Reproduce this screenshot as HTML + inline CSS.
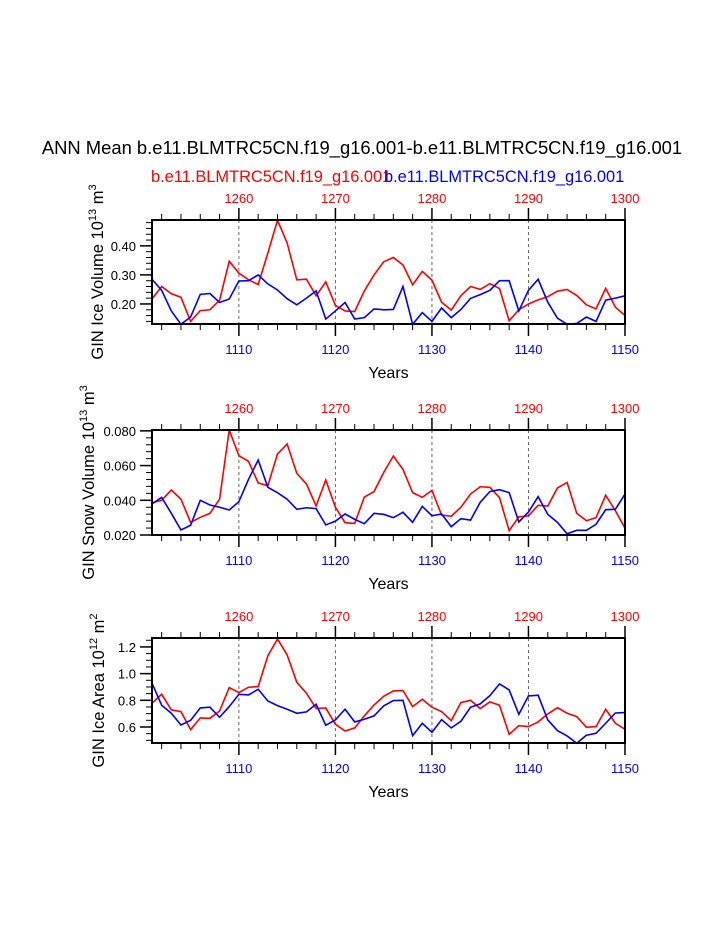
<!DOCTYPE html>
<html><head><meta charset="utf-8"><style>
body{margin:0;background:#fff;}
svg{display:block;font-family:"Liberation Sans",Arial,sans-serif;}
</style></head><body>
<svg id="c" width="723" height="935" viewBox="0 0 723 935" xmlns="http://www.w3.org/2000/svg">
<text x="362" y="154" font-size="18.4" text-anchor="middle">ANN Mean b.e11.BLMTRC5CN.f19_g16.001-b.e11.BLMTRC5CN.f19_g16.001</text>
<text x="151" y="182" font-size="16.4" fill="#f00">b.e11.BLMTRC5CN.f19_g16.001</text>
<text x="384" y="182" font-size="16.4" fill="#00f">b.e11.BLMTRC5CN.f19_g16.001</text>
</svg>
<script>
const years=[];for(let y=1101;y<=1150;y++)years.push(y);
const iceVolRed=[0.217,0.26,0.235,0.223,0.14,0.177,0.18,0.213,0.347,0.306,0.283,0.267,0.375,0.488,0.41,0.283,0.285,0.228,0.276,0.195,0.176,0.174,0.245,0.30,0.345,0.36,0.334,0.266,0.312,0.282,0.206,0.179,0.228,0.26,0.25,0.27,0.253,0.142,0.18,0.20,0.214,0.225,0.244,0.25,0.229,0.197,0.183,0.254,0.189,0.16];
const iceVolBlue=[0.285,0.247,0.176,0.13,0.155,0.233,0.236,0.205,0.217,0.279,0.28,0.30,0.269,0.248,0.218,0.197,0.22,0.245,0.148,0.176,0.205,0.148,0.153,0.183,0.18,0.181,0.26,0.13,0.17,0.14,0.186,0.153,0.181,0.219,0.232,0.247,0.28,0.28,0.176,0.247,0.285,0.206,0.151,0.13,0.133,0.155,0.14,0.213,0.22,0.228];
const snowRed=[0.0386,0.040,0.0459,0.0406,0.0273,0.0302,0.0325,0.0406,0.0805,0.0657,0.0624,0.050,0.0484,0.0667,0.0724,0.0555,0.0494,0.0367,0.0517,0.036,0.0271,0.0267,0.0419,0.045,0.056,0.0655,0.0578,0.0444,0.0417,0.0457,0.0315,0.0308,0.036,0.0436,0.0478,0.0475,0.0415,0.0225,0.0305,0.031,0.0371,0.0367,0.0471,0.0503,0.0325,0.0282,0.030,0.0429,0.034,0.0239];
const snowBlue=[0.0379,0.0417,0.0325,0.0229,0.0256,0.040,0.0373,0.036,0.0344,0.0392,0.0521,0.0632,0.0475,0.0444,0.0406,0.0348,0.0357,0.0352,0.0258,0.028,0.0321,0.029,0.0265,0.0325,0.0319,0.030,0.0331,0.0273,0.0365,0.0311,0.0321,0.0248,0.0294,0.0286,0.0388,0.045,0.0461,0.0444,0.0275,0.0332,0.0421,0.0319,0.0273,0.0207,0.0227,0.0227,0.0262,0.0346,0.0348,0.0436];
const areaRed=[0.778,0.845,0.728,0.715,0.58,0.668,0.665,0.72,0.895,0.858,0.898,0.903,1.133,1.26,1.14,0.935,0.853,0.738,0.743,0.62,0.57,0.593,0.683,0.765,0.83,0.87,0.873,0.753,0.808,0.748,0.715,0.648,0.783,0.80,0.738,0.788,0.763,0.545,0.61,0.603,0.638,0.698,0.745,0.703,0.678,0.598,0.603,0.733,0.628,0.583];
const areaBlue=[0.928,0.763,0.703,0.615,0.65,0.743,0.748,0.673,0.753,0.845,0.84,0.883,0.795,0.76,0.733,0.703,0.713,0.77,0.613,0.653,0.733,0.638,0.658,0.683,0.758,0.798,0.80,0.535,0.628,0.56,0.655,0.593,0.643,0.748,0.773,0.835,0.923,0.878,0.695,0.833,0.838,0.653,0.573,0.533,0.478,0.538,0.553,0.628,0.705,0.708];
const bottomTicks=[1110,1120,1130,1140,1150];
const topTicks=[1260,1270,1280,1290,1300];
const volTicks=[0.2,0.3,0.4],snowTicks=[0.02,0.04,0.06,0.08],areaTicks=[0.6,0.8,1.0,1.2];

const svg=document.getElementById('c');const NS='http://www.w3.org/2000/svg';
function el(t,a,p){const e=document.createElementNS(NS,t);for(const k in a)e.setAttribute(k,a[k]);(p||svg).appendChild(e);return e;}
const X0=152,X1=625;
const xs=y=>X0+(y-1101)*(X1-X0)/49;
function panel(name,top,bot,ymin,ymax,major,minorStep,dec,title,sup,unit,red,blue,tx){
  const g=el('g',{});
  
  
  const ys=v=>bot-(v-ymin)*(bot-top)/(ymax-ymin);
  [1110,1120,1130,1140].forEach(y=>{const l=el('line',{x1:xs(y),x2:xs(y),y1:top,y2:bot,stroke:'#666','stroke-width':1,'stroke-dasharray':'3,3'},g);
    });
  for(let y=1102;y<=1150;y+=2){if(y%10==0)continue;
    el('line',{x1:xs(y),x2:xs(y),y1:bot,y2:bot+6,stroke:'#000','stroke-width':1},g);
    el('line',{x1:xs(y),x2:xs(y),y1:top,y2:top-6,stroke:'#000','stroke-width':1},g);}
  bottomTicks.forEach((y,i)=>{el('line',{x1:xs(y),x2:xs(y),y1:bot,y2:bot+12,stroke:'#000','stroke-width':1.5},g);
    el('line',{x1:xs(y),x2:xs(y),y1:top,y2:top-12,stroke:'#000','stroke-width':1.5},g);
    const t=el('text',{x:xs(y),y:bot+30,'font-size':13,fill:'#00f','text-anchor':'middle'},g);t.textContent=y;
    
    const u=el('text',{x:xs(y),y:top-17,'font-size':13,fill:'#f00','text-anchor':'middle'},g);u.textContent=topTicks[i];
    });
  for(let v=Math.ceil(ymin/minorStep-1e-6)*minorStep;v<=ymax+1e-9;v+=minorStep){el('line',{x1:X0-6,x2:X0,y1:ys(v),y2:ys(v),stroke:'#000','stroke-width':1},g);}
  major.forEach(v=>{el('line',{x1:X0-12,x2:X0,y1:ys(v),y2:ys(v),stroke:'#000','stroke-width':1.5},g);
    const t=el('text',{x:X0-16,y:ys(v)+5,'font-size':13,'text-anchor':'end'},g);t.textContent=v.toFixed(dec);
    });
  [[red,'#f00','red-series'],[blue,'#00f','blue-series']].forEach(([d,c,n])=>{
    const p=el('polyline',{points:d.map((v,i)=>xs(years[i])+','+ys(v)).join(' '),fill:'none',stroke:c,'stroke-width':1.6},g);
    });
  const f=el('rect',{x:X0,y:top,width:X1-X0,height:bot-top,fill:'none',stroke:'#000','stroke-width':2},g);
  
  const xt=el('text',{x:(X0+X1)/2,y:bot+54,'font-size':16,'text-anchor':'middle'},g);xt.textContent='Years';
  
  const cy=(top+bot)/2;
  const yt=el('text',{x:0,y:0,'font-size':16.5,'text-anchor':'middle',transform:`translate(${tx},${cy}) rotate(-90)`},g);
  
  yt.appendChild(document.createTextNode(title+' 10'));
  const s1=el('tspan',{dy:-7,'font-size':11},yt);s1.textContent=sup;
  const s2=el('tspan',{dy:7},yt);s2.textContent=' '+unit;
  const s3=el('tspan',{dy:-7,'font-size':11},yt);s3.textContent=title.indexOf('Area')>=0?'2':'3';
}
panel('ice-volume-panel',220,324,0.131,0.489,volTicks,0.02,2,'GIN Ice Volume','13','m',iceVolRed,iceVolBlue,103);
panel('snow-volume-panel',430,535,0.02,0.0805,snowTicks,0.004,3,'GIN Snow Volume','13','m',snowRed,snowBlue,94);
panel('ice-area-panel',638,743,0.48,1.267,areaTicks,0.05,1,'GIN Ice Area','12','m',areaRed,areaBlue,104);
</script>
</body></html>
